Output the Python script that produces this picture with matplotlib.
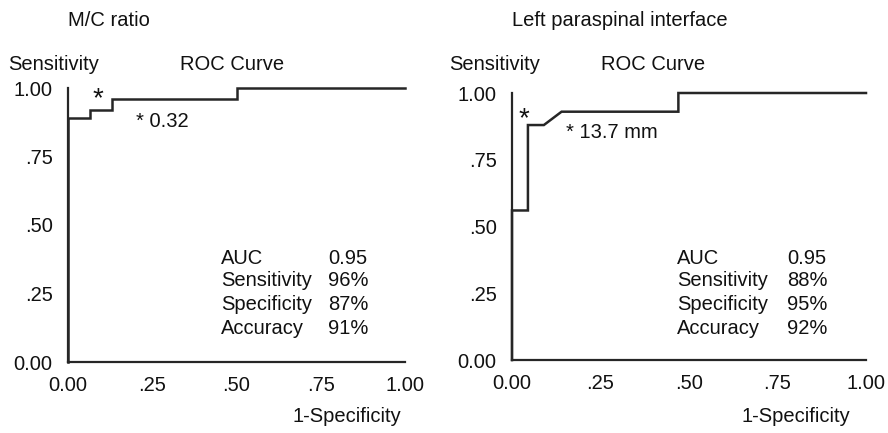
import matplotlib
matplotlib.use("Agg")
import matplotlib.pyplot as plt

# ---- data ----
left_title = "M/C ratio"
right_title = "Left paraspinal interface"
left_fpr = [0, 0, 0.065, 0.065, 0.13, 0.13, 0.50, 0.50, 1.0]
left_tpr = [0, 0.89, 0.89, 0.92, 0.92, 0.96, 0.96, 1.0, 1.0]
right_fpr = [0, 0, 0.045, 0.045, 0.09, 0.14, 0.47, 0.47, 1.0]
right_tpr = [0, 0.56, 0.56, 0.88, 0.88, 0.93, 0.93, 1.0, 1.0]
left_cut = (0.13, 0.96)
right_cut = (0.05, 0.88)
left_cut_label = "* 0.32"
right_cut_label = "* 13.7 mm"
stat_names = ["AUC", "Sensitivity", "Specificity", "Accuracy"]
left_stats = ["0.95", "96%", "87%", "91%"]
right_stats = ["0.95", "88%", "95%", "92%"]
tick_vals = [0, 0.25, 0.5, 0.75, 1.0]
tick_labels = ["0.00", ".25", ".50", ".75", "1.00"]

W, H = 888, 433
FS = 14.5
TXT = "#111111"
LINE = "#262626"
plt.rcParams["font.family"] = ["Liberation Sans", "DejaVu Sans"]

fig = plt.figure(figsize=(W / 100, H / 100), dpi=100)


def px(x, y):
    return x / W, 1 - y / H


def make_panel(x0, x1, ybot, ytop, fpr, tpr, cut, cut_label, cut_off,
               star_off, stats, title, title_x, sens_x, roc_x, spec_x,
               stat_x, val_x):
    ax = fig.add_axes([x0 / W, 1 - ybot / H, (x1 - x0) / W, (ybot - ytop) / H])
    ax.plot(fpr, tpr, color=LINE, lw=1.8, clip_on=False, solid_joinstyle="miter")
    ax.set_xlim(0, 1)
    ax.set_ylim(0, 1)
    for s in ["top", "right"]:
        ax.spines[s].set_visible(False)
    for s in ["left", "bottom"]:
        ax.spines[s].set_linewidth(1.6)
        ax.spines[s].set_color(LINE)
    ax.set_xticks(tick_vals)
    ax.set_xticklabels(tick_labels)
    ax.set_yticks(tick_vals)
    ax.set_yticklabels(tick_labels)
    ax.tick_params(length=0, labelsize=FS, colors=TXT)
    ax.tick_params(axis="y", pad=11)
    ax.tick_params(axis="x", pad=10)
    # operating point markers
    ax.annotate("*", xy=cut, xytext=star_off, textcoords="offset pixels",
                fontsize=20, color=TXT, ha="center", va="center")
    ax.annotate(cut_label, xy=cut, xytext=cut_off, textcoords="offset pixels",
                fontsize=FS, color=TXT, ha="left", va="center")
    # statistics
    rows_y = [258, 281, 305, 329]
    for name, val, ry in zip(stat_names, stats, rows_y):
        fig.text(*px(stat_x, ry), name, fontsize=FS, color=TXT, ha="left", va="center")
        fig.text(*px(val_x, ry), val, fontsize=FS, color=TXT, ha="left", va="center")
    fig.text(*px(title_x, 20), title, fontsize=FS, color=TXT, ha="left", va="center")
    fig.text(*px(sens_x, 65), "Sensitivity", fontsize=FS, color=TXT, ha="left", va="center")
    fig.text(*px(roc_x, 65), "ROC Curve", fontsize=FS, color=TXT, ha="left", va="center")
    fig.text(*px(spec_x, 417), "1-Specificity", fontsize=FS, color=TXT, ha="left", va="center")
    return ax


make_panel(68, 405, 362, 88, left_fpr, left_tpr, left_cut, left_cut_label,
           (24, -23), (-14, 0), left_stats, left_title, 68, 8, 180, 292, 221, 328)
make_panel(512, 866, 360, 93, right_fpr, right_tpr, right_cut, right_cut_label,
           (36, -7), (-6, 6), right_stats, right_title, 512, 449, 601, 741, 677, 787)

fig.savefig("out.png", dpi=100, facecolor="white")
